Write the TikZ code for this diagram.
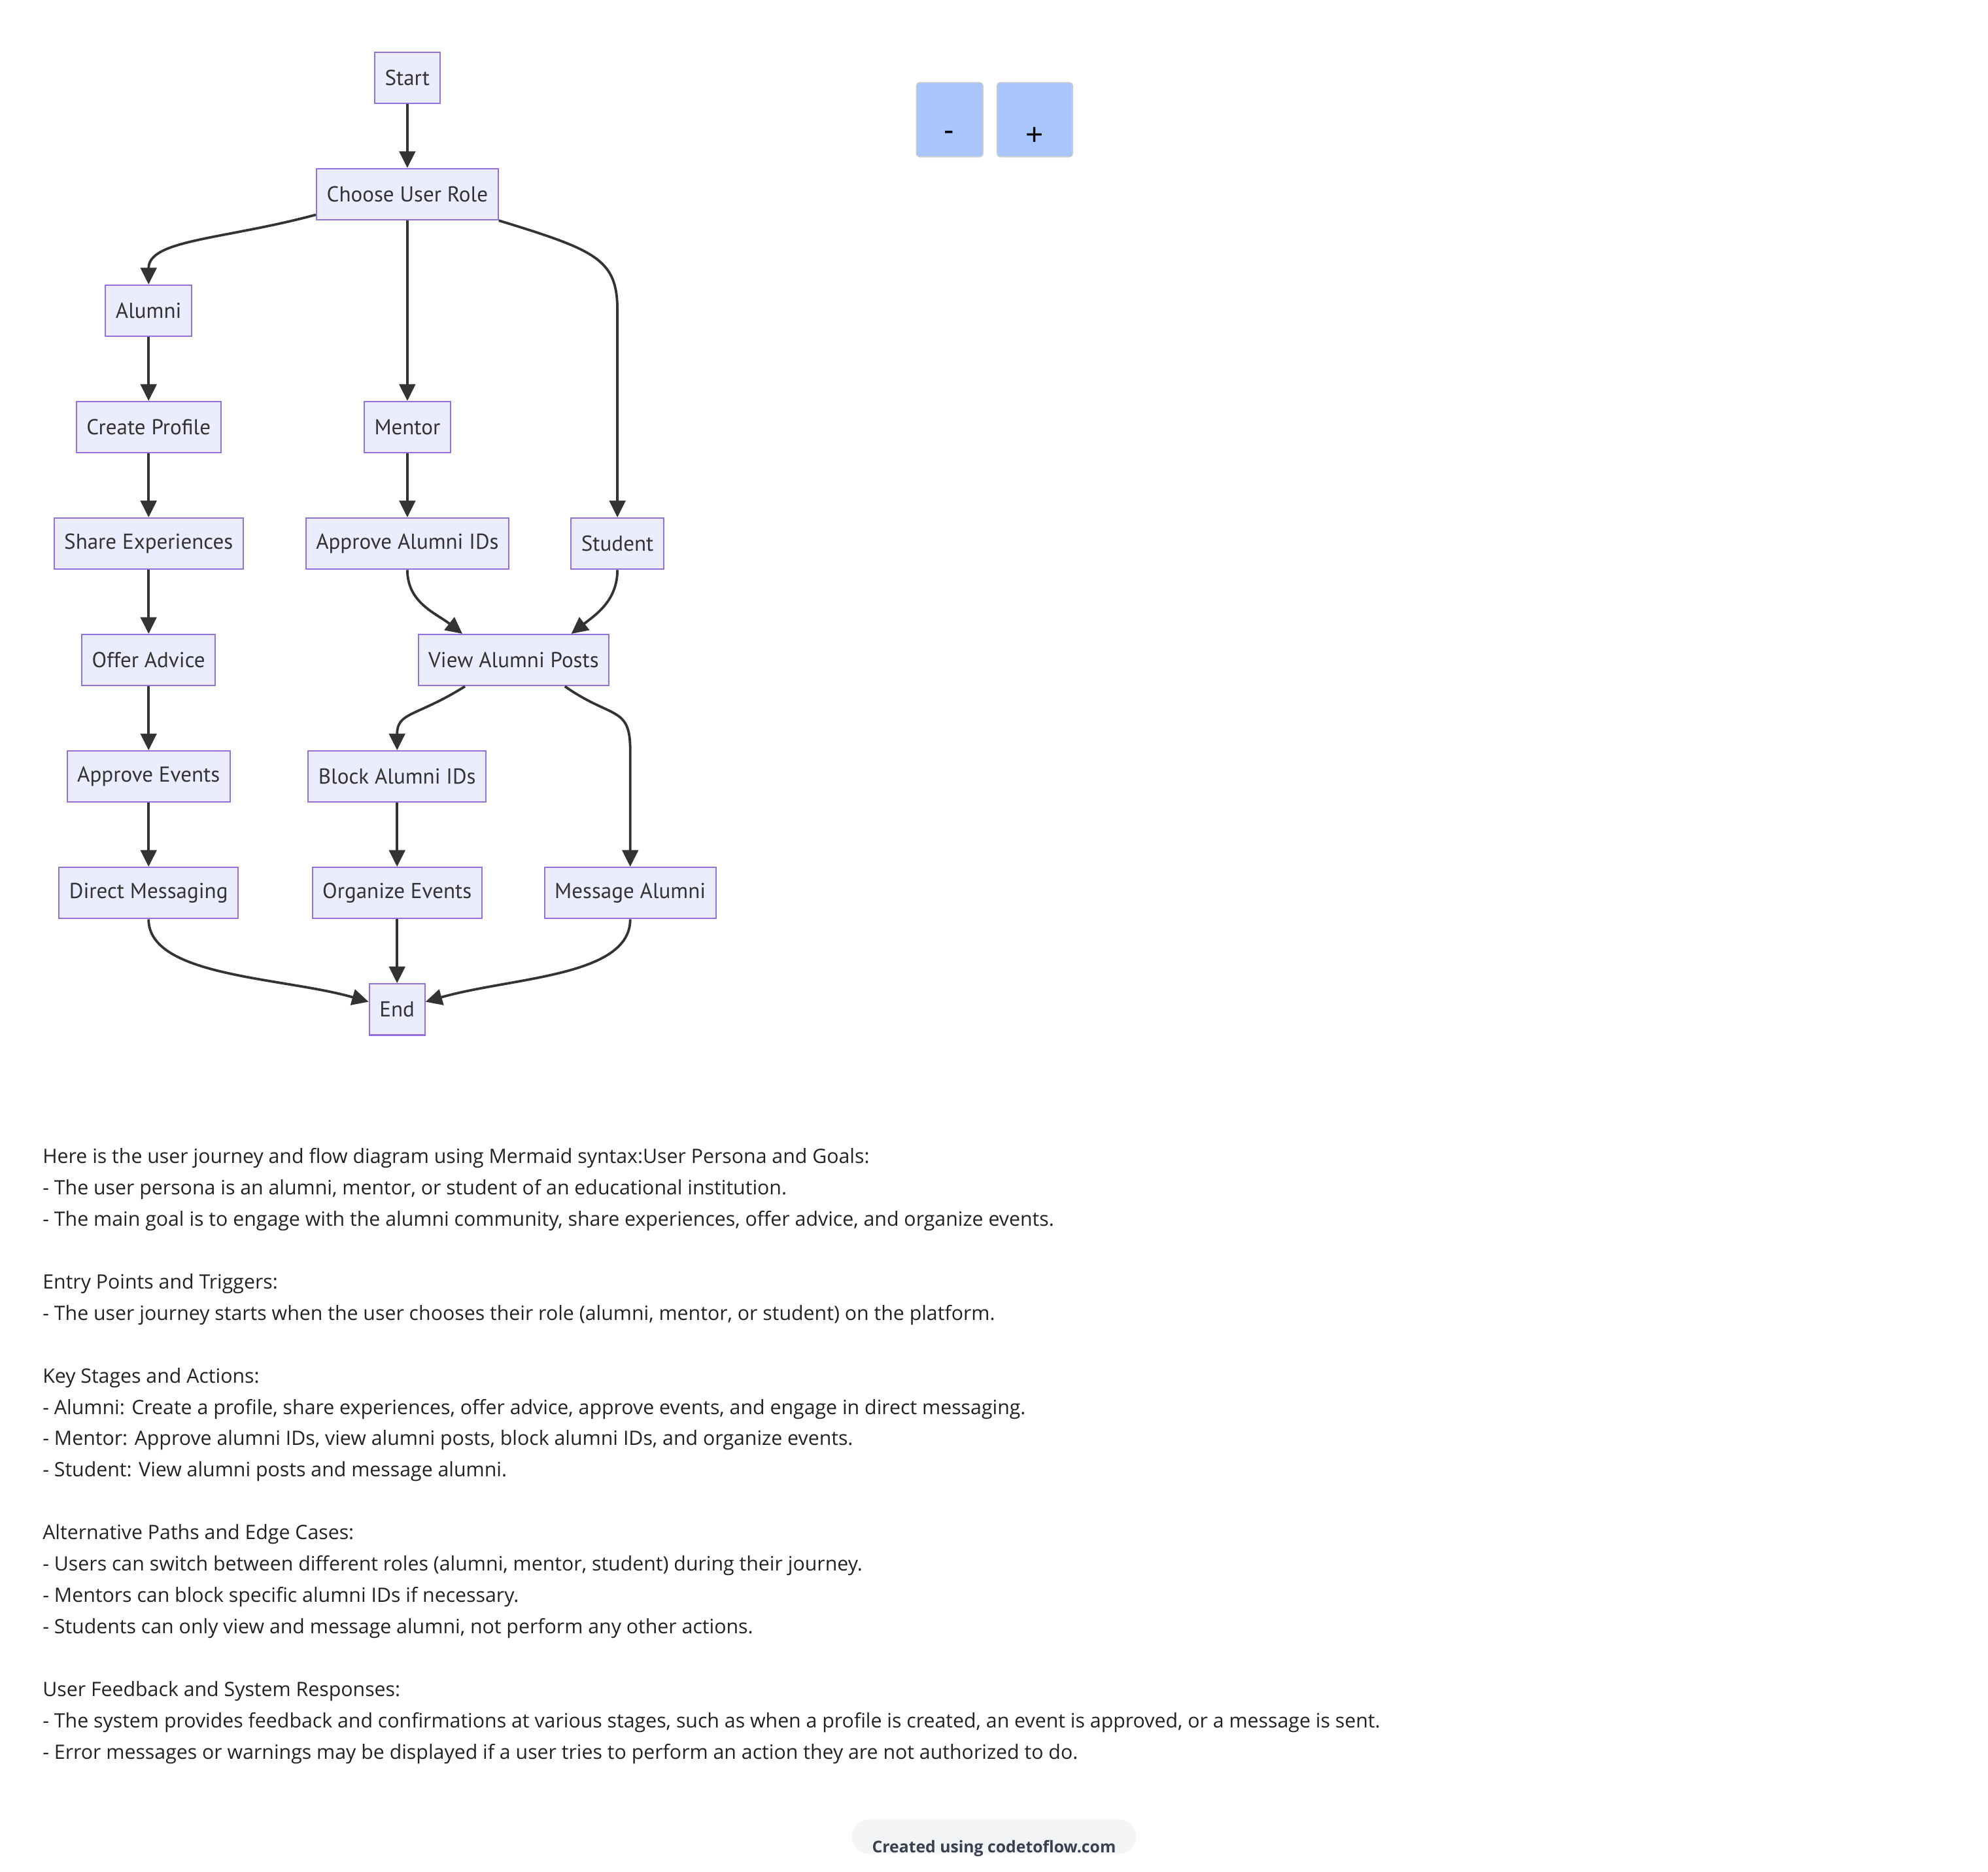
\documentclass[tikz,border=0pt]{standalone}
\usepackage{fontspec}
\setmainfont{Open Sans}
\newfontfamily\boxfont{PT Sans}
\newfontfamily\btnfont{Liberation Sans}
\usetikzlibrary{arrows.meta,calc}

\definecolor{boxfill}{HTML}{ECECFF}
\definecolor{boxline}{HTML}{9370DB}
\definecolor{edgegray}{HTML}{333333}
\definecolor{btnfill}{HTML}{A8C5FC}
\definecolor{btnline}{HTML}{CCCCCC}
\definecolor{notetext}{HTML}{222222}
\definecolor{pillfill}{HTML}{F3F4F6}
\definecolor{pilltext}{HTML}{374151}

\begin{document}
\begin{tikzpicture}[x=0.02cm, y=0.02cm,
	box/.style={draw=boxline, fill=boxfill, line width=0.6pt, minimum height=0.8cm, inner xsep=0.16cm, text=edgegray, font=\boxfont\fontsize{9.6}{11}\selectfont},
	flow/.style={draw=edgegray, line width=1.1pt, -{Triangle[length=0.26cm,width=0.25cm]}},
	btn/.style={draw=btnline, fill=btnfill, line width=0.45pt, rounded corners=0.05cm, anchor=north west, minimum height=1.16cm},
	btnlbl/.style={font=\btnfont\fontsize{13.5}{15}\selectfont, text=black, inner sep=0pt},
	notes/.style={anchor=base west, inner sep=0pt, text=notetext, font=\fontsize{8.8}{10}\selectfont},
	pill/.style={fill=pillfill, minimum width=4.44cm, minimum height=0.54cm, rounded corners=0.27cm, inner sep=0pt}]
	\begingroup
	\useasboundingbox (0,0) rectangle (1552,-1461);
	
	% flowchart
	\node[box] (start) at (318, -60.7) {Start};
	\node[box] (choose) at (318, -151.6) {Choose User Role};
	\node[box] (alumni) at (116, -242.5) {Alumni};
	\node[box] (profile) at (116, -333.4) {Create Profile};
	\node[box] (mentor) at (318, -333.4) {Mentor};
	\node[box] (share) at (116, -424.3) {Share Experiences};
	\node[box] (approveids) at (318, -424.3) {Approve Alumni IDs};
	\node[box] (student) at (482, -424.3) {Student};
	\node[box] (advice) at (116, -515.2) {Offer Advice};
	\node[box] (posts) at (401, -515.2) {View Alumni Posts};
	\node[box] (approveev) at (116, -606.1) {Approve Events};
	\node[box] (blockids) at (310, -606.1) {Block Alumni IDs};
	\node[box] (direct) at (116, -697) {Direct Messaging};
	\node[box] (organize) at (310, -697) {Organize Events};
	\node[box] (msgalumni) at (492, -697) {Message Alumni};
	\node[box] (finish) at (310, -787.9) {End};
	
	\draw[flow] (start) -- (choose);
	\draw[flow] ($(choose.south west)+(0,4.5)$) .. controls +(195:75) and +(90:35) .. (alumni.north);
	\draw[flow] (choose) -- (mentor);
	\draw[flow] (choose.south east) .. controls +(-17:80) and +(90:40) .. (student.north |- alumni) -- (student.north);
	\draw[flow] (alumni) -- (profile);
	\draw[flow] (profile) -- (share);
	\draw[flow] (mentor) -- (approveids);
	\draw[flow] (share) -- (advice);
	\draw[flow] (approveids.south) to[out=-90, in=142] ($(posts.north)+(-40,0)$);
	\draw[flow] (student.south) to[out=-90, in=38] ($(posts.north)+(45,0)$);
	\draw[flow] (advice) -- (approveev);
	\draw[flow] ($(posts.south)+(-38,0)$) .. controls +(212:45) and +(90:30) .. (blockids.north);
	\draw[flow] ($(posts.south)+(40,0)$) .. controls +(-35:45) and +(90:35) .. (msgalumni.north |- blockids.north) -- (msgalumni.north);
	\draw[flow] (approveev) -- (direct);
	\draw[flow] (blockids) -- (organize);
	\draw[flow] (organize) -- (finish);
	\draw[flow] (direct.south) .. controls +(0,-45) and +(164:70) .. ($(finish.west)+(0,6)$);
	\draw[flow] (msgalumni.south) .. controls +(0,-45) and +(16:70) .. ($(finish.east)+(0,6)$);
	
	% zoom buttons
	\node[btn, minimum width=1.04cm] (zoomout) at (715, -64) {};
	\node[btn, minimum width=1.18cm] (zoomin) at (778, -64) {};
	\node[btnlbl] (zoomoutlbl) at (741, -106) {-};
	\node[btnlbl] (zoominlbl) at (807.5, -106) {+};
	
	% description
	\foreach \i/\txt in {
		1/{Here is the user journey and flow diagram using Mermaid syntax:User Persona and Goals:},
		2/{- The user persona is an alumni, mentor, or student of an educational institution.},
		3/{- The main goal is to engage with the alumni community, share experiences, offer advice, and organize events.},
		5/{Entry Points and Triggers:},
		6/{- The user journey starts when the user chooses their role (alumni, mentor, or student) on the platform.},
		8/{Key Stages and Actions:},
		9/{- Alumni: Create a profile, share experiences, offer advice, approve events, and engage in direct messaging.},
		10/{- Mentor: Approve alumni IDs, view alumni posts, block alumni IDs, and organize events.},
		11/{- Student: View alumni posts and message alumni.},
		13/{Alternative Paths and Edge Cases:},
		14/{- Users can switch between different roles (alumni, mentor, student) during their journey.},
		15/{- Mentors can block specific alumni IDs if necessary.},
		16/{- Students can only view and message alumni, not perform any other actions.},
		18/{User Feedback and System Responses:},
		19/{- The system provides feedback and confirmations at various stages, such as when a profile is created, an event is approved, or a message is sent.},
		20/{- Error messages or warnings may be displayed if a user tries to perform an action they are not authorized to do.}}
		\node[notes] (line\i) at (33, {-908-24.47*(\i-1)}) {\txt};
	
	% footer
	\node[pill] (credit) at (776, -1433.5) {};
	\node[anchor=base, inner sep=0pt, text=pilltext, font=\bfseries\fontsize{7.2}{9}\selectfont] (creditlbl) at (776, -1446) {Created using codetoflow.com};
	\endgroup
\end{tikzpicture}
\end{document}
